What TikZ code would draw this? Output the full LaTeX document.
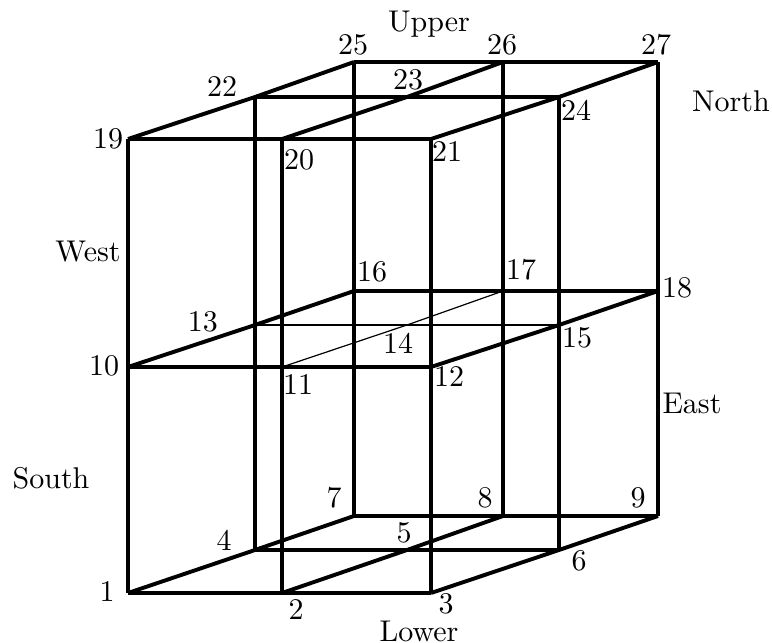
\documentclass[tikz,border=0pt]{standalone}
\begin{document}
\begin{tikzpicture}[x=0.33333pt,y=-0.33333pt,
  edge/.style={line width=1.3pt},
  thinedge/.style={line width=0.4pt},
  lbl/.style={inner sep=0pt,font=\fontsize{10}{12}\selectfont}]
\useasboundingbox (0,0) rectangle (772,643);
% front (depth 0)
\coordinate (p1) at (128,593); \coordinate (p2) at (282,593); \coordinate (p3) at (431,593);
\coordinate (p10) at (128,367); \coordinate (p11) at (282,367); \coordinate (p12) at (431,367);
\coordinate (p19) at (128,139); \coordinate (p20) at (282,139); \coordinate (p21) at (431,139);
% middle (depth 1)
\coordinate (p4) at (255,550); \coordinate (p5) at (407,550); \coordinate (p6) at (559,550);
\coordinate (p13) at (255,325); \coordinate (p14) at (407,325); \coordinate (p15) at (559,325);
\coordinate (p22) at (255,97); \coordinate (p23) at (407,97); \coordinate (p24) at (559,97);
% back (depth 2)
\coordinate (p7) at (354,516); \coordinate (p8) at (503,516); \coordinate (p9) at (658,516);
\coordinate (p16) at (354,291); \coordinate (p17) at (503,291); \coordinate (p18) at (658,291);
\coordinate (p25) at (354,62); \coordinate (p26) at (503,62); \coordinate (p27) at (658,62);
% verticals
\draw[edge] (p1)--(p10)--(p19);
\draw[edge] (p2)--(p11)--(p20);
\draw[edge] (p3)--(p12)--(p21);
\draw[edge] (p4)--(p13)--(p22);
\draw[edge] (p6)--(p15)--(p24);
\draw[edge] (p7)--(p16)--(p25);
\draw[edge] (p8)--(p17)--(p26);
\draw[edge] (p9)--(p18)--(p27);
% lower layer
\draw[edge] (p1)--(p2)--(p3);
\draw[edge] (p4)--(p5)--(p6);
\draw[edge] (p7)--(p8)--(p9);
\draw[edge] (p1)--(p4)--(p7);
\draw[edge] (p2)--(p5)--(p8);
\draw[edge] (p3)--(p6)--(p9);
% middle layer
\draw[edge] (p10)--(p11)--(p12);
\draw[edge] (p16)--(p17)--(p18);
\draw[edge] (p10)--(p13)--(p16);
\draw[edge] (p12)--(p15)--(p18);
\draw[thinedge] (p13)--(p14)--(p15);
\draw[thinedge] (p11)--(p14)--(p17);
% upper layer
\draw[edge] (p19)--(p20)--(p21);
\draw[edge] (p22)--(p23)--(p24);
\draw[edge] (p25)--(p26)--(p27);
\draw[edge] (p19)--(p22)--(p25);
\draw[edge] (p20)--(p23)--(p26);
\draw[edge] (p21)--(p24)--(p27);
% point labels
\node[lbl] (l1) at (107,592) {1};
\node[lbl] (l2) at (296,610) {2};
\node[lbl] (l3) at (446,604) {3};
\node[lbl] (l4) at (224,540) {4};
\node[lbl] (l5) at (404,533) {5};
\node[lbl] (l6) at (579,561) {6};
\node[lbl] (l7) at (334,498) {7};
\node[lbl] (l8) at (485,498) {8};
\node[lbl] (l9) at (638,498) {9};
\node[lbl] (l10) at (104,366) {10};
\node[lbl] (l11) at (298,385) {11};
\node[lbl] (l12) at (449,377) {12};
\node[lbl] (l13) at (203,322) {13};
\node[lbl] (l14) at (398,343) {14};
\node[lbl] (l15) at (577,338) {15};
\node[lbl] (l16) at (372,272) {16};
\node[lbl] (l17) at (521,270) {17};
\node[lbl] (l18) at (677,288) {18};
\node[lbl] (l19) at (108,139) {19};
\node[lbl] (l20) at (299,160) {20};
\node[lbl] (l21) at (447,152) {21};
\node[lbl] (l22) at (222,87) {22};
\node[lbl] (l23) at (408,80) {23};
\node[lbl] (l24) at (576,110) {24};
\node[lbl] (l25) at (353,45) {25};
\node[lbl] (l26) at (502,45) {26};
\node[lbl] (l27) at (656,45) {27};
% direction labels
\node[lbl] (upper) at (429,24) {Upper};
\node[lbl] (north) at (731,101) {North};
\node[lbl] (west) at (88,252) {West};
\node[lbl] (east) at (692,403) {East};
\node[lbl] (south) at (51,478) {South};
\node[lbl] (lower) at (419,631) {Lower};
\end{tikzpicture}
\end{document}
